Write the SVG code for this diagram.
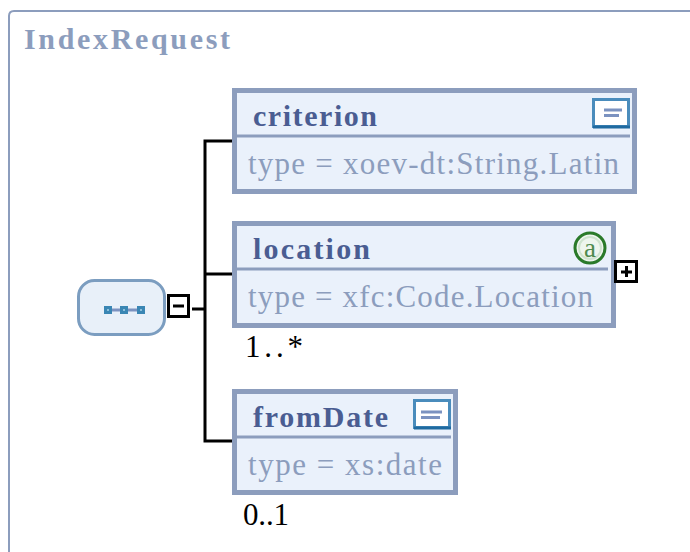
<svg xmlns="http://www.w3.org/2000/svg" width="690" height="552" viewBox="0 0 690 552">
<style>
text{font-family:"Liberation Serif","Times New Roman",serif}
.title{font-size:30px;font-weight:bold;fill:#8c9dbd}
.name{font-size:30px;font-weight:bold;fill:#4a5d92}
.type{font-size:31px;fill:#8c9dbd}
.occ{font-size:31px;fill:#000}
.box{fill:#eaf1fb;stroke:#8c9dbd;stroke-width:5}
.sep{fill:none;stroke:#8c9dbd;stroke-width:3}
.conn{fill:none;stroke:#000;stroke-width:3}
.tog{fill:#fff;stroke:#000;stroke-width:3}
.sym{fill:none;stroke:#000;stroke-width:3}
.ico{fill:#fff;stroke:#4a8cbc;stroke-width:3}
.bar{fill:none;stroke:#7b92c0;stroke-width:3}
</style>
<path id="frame" d="M9 552V16Q9 11 14 11H690" fill="none" stroke="#8c9dbd" stroke-width="2"/>
<text class="title" x="24" y="49" textLength="206" lengthAdjust="spacing">IndexRequest</text>
<g id="connectors">
<path class="conn" d="M232 141H205V441H232"/>
<path class="conn" d="M205 274H232"/>
<path class="conn" d="M192 309H205"/>
</g>
<g id="sequence">
<rect x="78.500" y="280.500" width="86" height="54" rx="16" fill="#e8f0f9" stroke="#7b9dc0" stroke-width="3"/>
<path d="M108 310H140" stroke="#7b92c0" stroke-width="3" fill="none"/>
<g fill="#8cc0dc" stroke="#3a86b4" stroke-width="3">
<rect x="105.500" y="307.500" width="5" height="5"/>
<rect x="121.500" y="307.500" width="5" height="5"/>
<rect x="138.500" y="307.500" width="5" height="5"/>
</g>
<rect class="tog" x="168.500" y="295.500" width="20" height="21"/>
<path class="sym" d="M173 306H184"/>
</g>
<g id="criterion">
<rect class="box" x="234.500" y="90.500" width="400" height="101"/>
<path class="sep" d="M236 136H630"/>
<text class="name" x="253" y="126" textLength="124" lengthAdjust="spacing">criterion</text>
<text class="type" x="248" y="174" textLength="371" lengthAdjust="spacing">type = xoev-dt:String.Latin</text>
<rect class="ico" x="593.500" y="99.500" width="35" height="27"/>
<path d="M593 127H630" stroke="#1f6aa0" stroke-width="3"/>
<path class="bar" d="M604 110H622M604 115.500H619"/>
</g>
<g id="location">
<rect class="box" x="234.500" y="223.500" width="379" height="102"/>
<path class="sep" d="M236 269H608"/>
<text class="name" x="253" y="259" textLength="117" lengthAdjust="spacing">location</text>
<text class="type" x="248" y="307" textLength="345" lengthAdjust="spacing">type = xfc:Code.Location</text>
<circle cx="590" cy="248" r="15" fill="#eef5ee" stroke="#2a7a2a" stroke-width="3"/>
<circle cx="590" cy="248" r="11" fill="none" stroke="#cfe3cf" stroke-width="2"/>
<text x="590" y="257" text-anchor="middle" font-size="27" fill="#4f8a4f">a</text>
<rect class="tog" x="615.500" y="261.500" width="21" height="20"/>
<path class="sym" d="M621 272H632M626.500 266V277"/>
<text class="occ" x="245" y="357" textLength="58" lengthAdjust="spacing">1..*</text>
</g>
<g id="fromDate">
<rect class="box" x="234.500" y="391.500" width="221" height="101"/>
<path class="sep" d="M236 437H451"/>
<text class="name" x="253" y="427" textLength="135" lengthAdjust="spacing">fromDate</text>
<text class="type" x="248" y="475" textLength="194" lengthAdjust="spacing">type = xs:date</text>
<rect class="ico" x="414.500" y="400.500" width="35" height="27"/>
<path d="M414 428H451" stroke="#1f6aa0" stroke-width="3"/>
<path class="bar" d="M421 412H442M421 417.500H440"/>
<text class="occ" x="243" y="525" textLength="46" lengthAdjust="spacing">0..1</text>
</g>
</svg>
